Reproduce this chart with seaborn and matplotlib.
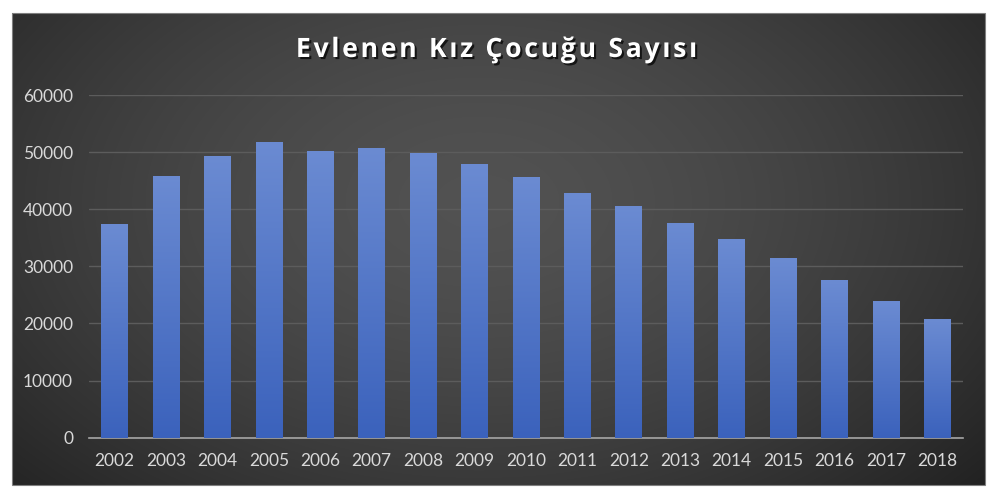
import numpy as np
import pandas as pd
import matplotlib
matplotlib.use("Agg")
import matplotlib.pyplot as plt
import seaborn as sns
from matplotlib import patheffects as pe
from matplotlib.patches import Rectangle
from matplotlib.colors import to_rgb

years = [str(y) for y in range(2002, 2019)]
values = [37370, 45880, 49280, 51840, 50260, 50790, 49800, 47990, 45660,
          42850, 40520, 37650, 34800, 31420, 27570, 23890, 20790]
y_ticks = [0, 10000, 20000, 30000, 40000, 50000, 60000]
title = "Evlenen Kız Çocuğu Sayısı"

sns.set_theme(style="dark")
plt.rcParams['font.family'] = ['Lato', 'DejaVu Sans']

W, H = 1000, 499
fig = plt.figure(figsize=(10, 4.99), dpi=100, facecolor='white')

# background panel with radial gradient
bg = fig.add_axes([0, 0, 1, 1], zorder=0)
bg.set_xlim(0, W); bg.set_ylim(H, 0); bg.axis('off')
px0, px1, py0, py1 = 12, 985, 13, 485
gx = np.linspace(0, 1, 500); gy = np.linspace(0, 1, 250)
X, Y = np.meshgrid(gx, gy)
cx, cy = 0.48, 0.4
r = np.sqrt(((X - cx) / 0.72) ** 2 + ((Y - cy) / 0.95) ** 2)
r = np.clip(r, 0, 1)
inner, outer = 0.32, 0.12
val = outer + (inner - outer) * (1 - r ** 1.6)
img = np.dstack([val, val, val])
bg.imshow(img, extent=(px0, px1, py1, py0), aspect='auto', interpolation='bilinear')
bg.add_patch(Rectangle((px0, py0), px1 - px0, py1 - py0, fill=False,
                       edgecolor='#7f7f7f', lw=0.8))
bg.set_xlim(0, W); bg.set_ylim(H, 0)

# main axes
ax = fig.add_axes([0.089, 0.1228, 0.874, 0.6868], zorder=1)
ax.patch.set_alpha(0)
df = pd.DataFrame({'year': years, 'value': values})
sns.barplot(data=df, x='year', y='value', color='#4a72c4', width=0.52,
            saturation=1, ax=ax, zorder=2, linewidth=0, edgecolor='none')
ax.set_ylim(0, 60000)
ax.set_xlim(-0.5, len(years) - 0.5)
ax.set_yticks(y_ticks)
ax.set_yticklabels([str(v) for v in y_ticks])
ax.set_xlabel(''); ax.set_ylabel('')
ax.yaxis.grid(True, color='#5c5c5c', lw=1)
ax.xaxis.grid(False)
ax.set_axisbelow(True)
for s in ['left', 'right', 'top']:
    ax.spines[s].set_visible(False)
ax.spines['bottom'].set_color('#a6a6a6')
ax.spines['bottom'].set_linewidth(1.2)
ax.tick_params(axis='y', colors='#d9d9d9', labelsize=12.5, length=0, pad=11.5)
ax.tick_params(axis='x', colors='#d9d9d9', labelsize=12.5, length=0, pad=11)

# gradient fill on bars
top = np.array(to_rgb('#6b8bd2'))
bot = np.array(to_rgb('#3b62bc'))
t = np.linspace(0, 1, 256).reshape(-1, 1, 1)
grad = top * (1 - t) + bot * t
for p in ax.patches:
    x0, y0 = p.get_x(), p.get_y()
    w, h = p.get_width(), p.get_height()
    im = ax.imshow(grad, extent=(x0, x0 + w, y0, y0 + h), aspect='auto',
                   origin='upper', zorder=3, interpolation='bilinear')
    im.set_clip_path(p)
ax.set_ylim(0, 60000)
ax.set_xlim(-0.5, len(years) - 0.5)

spaced_title = '\u200a'.join(title)
fig.text(0.496, 1 - 50 / H, spaced_title, ha='center', va='center', fontsize=19.2,
         fontweight='bold', color='white', zorder=5, family=['Open Sans', 'DejaVu Sans'],
         path_effects=[pe.withSimplePatchShadow(offset=(1.5, -1.5),
                                                shadow_rgbFace='black', alpha=0.7)])

fig.savefig('out.png', dpi=100, facecolor='white')
